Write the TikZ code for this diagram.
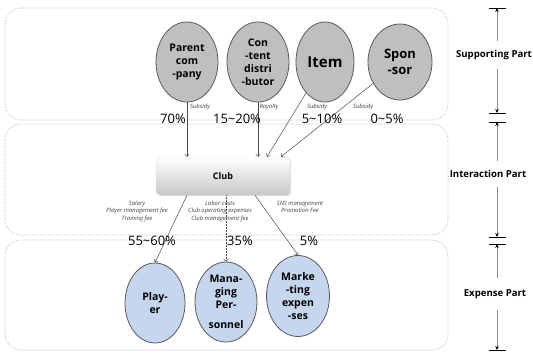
\documentclass[tikz,border=0pt]{standalone}
\usepackage{fontspec}
\setmainfont{Open Sans}
\usetikzlibrary{arrows.meta,shapes.geometric,shadows}

\definecolor{ballgray}{RGB}{191,191,191}
\definecolor{ballblue}{RGB}{198,214,238}
\definecolor{rimgray}{RGB}{90,90,90}
\definecolor{panelgray}{RGB}{170,170,170}

\tikzset{
  panel/.style={draw=panelgray, densely dotted, line width=0.6pt, rounded corners=16pt},
  ball/.style={ellipse, draw=rimgray, line width=0.8pt, minimum width=62pt,
    minimum height=80pt, inner sep=0pt, align=center,
    font=\bfseries\fontsize{10.5}{13}\selectfont},
  supball/.style={ball, fill=ballgray},
  costball/.style={ball, fill=ballblue},
  clubbox/.style={rectangle, rounded corners=4pt, top color=white,
    bottom color=black!22, draw=black!12, minimum width=134pt, minimum height=38pt,
    font=\bfseries\fontsize{9}{11}\selectfont,
    drop shadow={shadow xshift=1.2pt, shadow yshift=-1.2pt, opacity=0.25}},
  flow/.style={draw=black!70, line width=0.5pt, -{To[length=3pt,width=5pt]}},
  dotflow/.style={flow, densely dotted},
  pct/.style={font=\fontsize{13}{13}\selectfont, inner sep=0pt},
  note/.style={font=\itshape\fontsize{5.9}{7.5}\selectfont, align=center,
    text=black!75, inner sep=0pt},
  partlabel/.style={font=\bfseries\fontsize{9.6}{12}\selectfont, inner xsep=0pt,
    inner ysep=6pt},
  tickmark/.style={draw=black, line width=0.8pt},
  dimline/.style={draw=black!45, line width=0.8pt, -{Stealth[length=4pt,width=3.5pt,black]}},
}

\begin{document}
\begin{tikzpicture}[x=1pt,y=-1pt]
\useasboundingbox (0,0) rectangle (533,353);

% three bands
\draw[panel] (5,8) rectangle (448,120);
\draw[panel] (5,124) rectangle (448,235);
\draw[panel] (5,240) rectangle (448,350);

% revenue sources
\node[supball] (parent) at (187,62) {Parent\\com\\-pany};
\node[supball] (content) at (258,62) {Con\\-tent\\distri\\-butor};
\node[supball, minimum width=58pt, font=\bfseries\fontsize{15}{17}\selectfont] (item) at (325,62) {Item};
\node[supball, minimum width=64pt, minimum height=76pt, font=\bfseries\fontsize{13}{16}\selectfont] (sponsor) at (400,62) {Spon\\-sor};

% the club
\node[clubbox] (club) at (223,176) {Club};
\coordinate (inItem) at ([xshift=44pt]club.north);
\coordinate (inSponsor) at ([xshift=58pt]club.north);
\coordinate (outPlayer) at ([xshift=-36pt]club.south);
\coordinate (outMkt) at ([xshift=32pt]club.south);

% cost items
\node[costball, minimum width=60pt] (player) at (155,303) {Play-\\er};
\node[costball] (mgmt) at (226,302) {Mana-\\ging\\Per-\\[7pt]sonnel};
\node[costball, minimum width=63pt, minimum height=81pt] (mkt) at (298,296) {Marke\\-ting\\expen\\-ses};

% money into the club
\draw[flow] (parent) -- (parent |- club.north);
\draw[flow] (content) -- (content |- club.north);
\draw[flow] (item) -- (inItem);
\draw[flow] (sponsor) -- (inSponsor);

% money out of the club
\draw[flow] (outPlayer) -- (player.north);
\draw[dotflow] (mgmt |- club.south) -- (mgmt.north);
\draw[flow] (outMkt) -- (mkt.north);

% flow labels
\node[note] (s1) at (200,107) {Subsidy};
\node[note] (r1) at (269,107) {Royalty};
\node[note] (s2) at (317,107) {Subsidy};
\node[note] (s3) at (363,107) {Subsidy};

\node[pct] (p1) at (173,119) {70\%};
\node[pct] (p2) at (237,119) {15\textasciitilde20\%};
\node[pct] (p3) at (322,119) {5\textasciitilde10\%};
\node[pct] (p4) at (387,119) {0\textasciitilde5\%};

\node[note] (n1) at (137,211) {Salary\\Player management fee\\Training fee};
\node[note] (n2) at (220,211) {Labor costs\\Club operating expenses\\Club management fee};
\node[note] (n3) at (300,207) {SNS management\\Promotion Fee};

\node[pct] (q1) at (152,241) {55\textasciitilde60\%};
\node[pct] (q2) at (240,241) {35\%};
\node[pct] (q3) at (309,241) {5\%};

% part markers on the right
\coordinate (t1) at (497,8);
\coordinate (t2) at (497,113);
\coordinate (t3) at (497,122);
\coordinate (t4) at (497,237);
\coordinate (t5) at (497,244);
\coordinate (t6) at (497,350);

\node[partlabel, inner ysep=9pt] (sup) at (494,55) {Supporting Part};
\node[partlabel, inner ysep=9pt] (inter) at (488,174) {Interaction Part};
\node[partlabel, inner ysep=11pt] (exp) at (495,294) {Expense Part};

\foreach \t in {t1,t2,t3,t4,t5,t6}
  \draw[tickmark] ([xshift=-8.5pt]\t) -- ([xshift=8.5pt]\t);

\draw[dimline] (t1 |- sup.north) -- (t1);
\draw[dimline] (t2 |- sup.south) -- (t2);
\draw[dimline] (t3 |- inter.north) -- (t3);
\draw[dimline] (t4 |- inter.south) -- (t4);
\draw[dimline] (t5 |- exp.north) -- (t5);
\draw[dimline] (t6 |- exp.south) -- (t6);
\end{tikzpicture}
\end{document}
